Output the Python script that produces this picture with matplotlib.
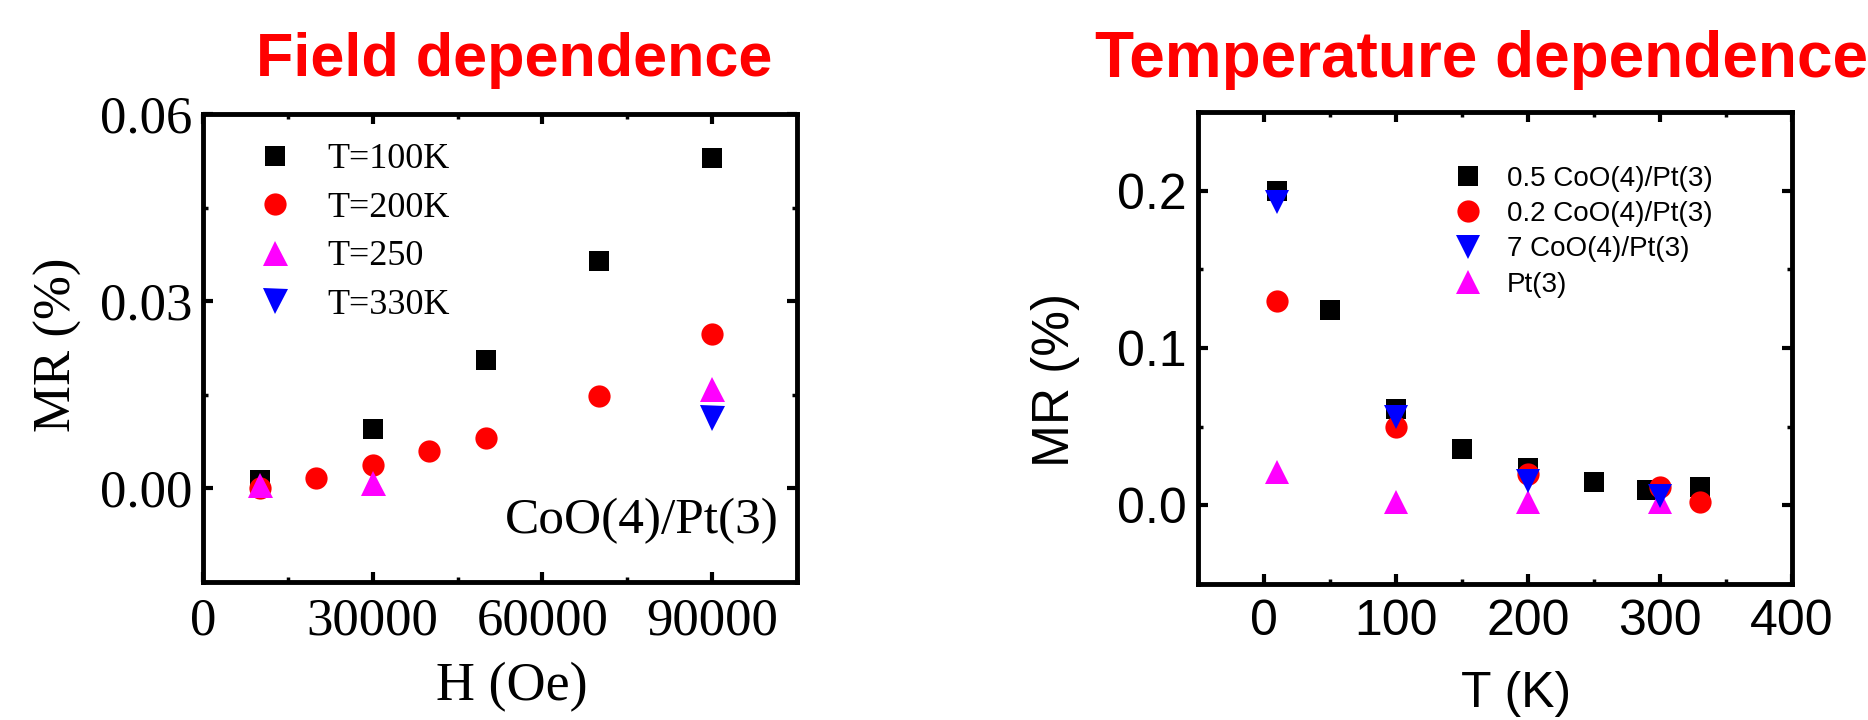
#!/usr/bin/env python
import sys
import numpy as np
import matplotlib
matplotlib.use('Agg')
import matplotlib.pyplot as plt
from matplotlib.ticker import MultipleLocator

# Field dependence, CoO(4)/Pt(3)
h_100K = [10000, 30000, 50000, 70000, 90000]
mr_100K = [0.0013, 0.0095, 0.0205, 0.0365, 0.0529]
h_200K = [10000, 20000, 30000, 40000, 50000, 70000, 90000]
mr_200K = [0.0, 0.0017, 0.0038, 0.0060, 0.0081, 0.0148, 0.0248]
h_250 = [10000, 30000, 90000]
mr_250 = [0.0005, 0.0008, 0.0160]
h_330K = [90000]
mr_330K = [0.0113]

# Temperature dependence
t_05 = [10, 50, 100, 150, 200, 250, 290, 330]
mr_05 = [0.200, 0.124, 0.061, 0.036, 0.024, 0.015, 0.0095, 0.0116]
t_02 = [10, 100, 200, 300, 330]
mr_02 = [0.130, 0.050, 0.0196, 0.0116, 0.002]
t_7 = [10, 100, 200, 300]
mr_7 = [0.193, 0.056, 0.0156, 0.0057]
t_pt = [10, 100, 200, 300]
mr_pt = [0.021, 0.0019, 0.0019, 0.0019]

SERIF = 'Liberation Serif'
SANS = 'Liberation Sans'


def style_axis(ax, family, size):
    for sp in ax.spines.values():
        sp.set_linewidth(3.5)
    ax.tick_params(which='both', direction='in', top=True, right=True)
    ax.tick_params(which='major', length=7, width=3)
    ax.tick_params(which='minor', length=3.5, width=2.5)
    ax.tick_params(axis='x', pad=11)
    ax.tick_params(axis='y', pad=8)
    for lbl in ax.get_xticklabels() + ax.get_yticklabels():
        lbl.set_family(family)
        lbl.set_fontsize(size)


def create_figure(outfile):

    # Layout (pixels, 100 dpi)
    W, H = 1868, 720
    fig = plt.figure(figsize=(W/100, H/100), dpi=100)

    # left panel: field dependence
    ax = fig.add_axes([203/W, 1-582/H, 594/W, 468/H])
    ax.plot(h_100K, mr_100K, 's', color='black', ms=14, mew=0, label='T=100K')
    ax.plot(h_200K, mr_200K, 'o', color='red', ms=16, mew=0, label='T=200K')
    ax.plot(h_250, mr_250, '^', color='magenta', ms=18, mew=0, label='T=250')
    ax.plot(h_330K, mr_330K, 'v', color='blue', ms=18, mew=0, label='T=330K')
    ax.set_xlim(0, 105000)
    ax.set_ylim(-0.015, 0.06)
    ax.xaxis.set_major_locator(MultipleLocator(30000))
    ax.xaxis.set_minor_locator(MultipleLocator(15000))
    ax.set_yticks([0.0, 0.03, 0.06], ['0.00', '0.03', '0.06'])
    ax.yaxis.set_minor_locator(MultipleLocator(0.015))
    style_axis(ax, SERIF, 38)
    ax.set_xlabel('H (Oe)', family=SERIF, fontsize=39, va='center')
    ax.xaxis.set_label_coords(512/W, 1-687/H, fig.transFigure)
    ax.set_ylabel('MR (%)', family=SERIF, fontsize=38, va='center')
    ax.yaxis.set_label_coords(58/W, 1-345/H, fig.transFigure)
    ax.text(0.97, 0.105, 'CoO(4)/Pt(3)', transform=ax.transAxes,
            ha='right', va='baseline', family=SERIF, fontsize=37)
    ax.legend(loc='upper left', bbox_to_anchor=(239/W, 1-143/H),
              bbox_transform=fig.transFigure, frameon=False, borderpad=0,
              borderaxespad=0, handlelength=2, handletextpad=0.44,
              labelspacing=0.42, prop={'family': SERIF, 'size': 26})
    fig.text(772/W, 1-76/H, 'Field dependence', ha='right', va='baseline',
             color='red', fontsize=44, fontweight='bold', family=SANS)

    # right panel: temperature dependence
    ax = fig.add_axes([1198/W, 1-584/H, 594/W, 472/H])
    l05, = ax.plot(t_05, mr_05, 's', color='black', ms=14, mew=0,
                   label='0.5 CoO(4)/Pt(3)')
    l02, = ax.plot(t_02, mr_02, 'o', color='red', ms=16, mew=0,
                   label='0.2 CoO(4)/Pt(3)')
    lpt, = ax.plot(t_pt, mr_pt, '^', color='magenta', ms=17, mew=0,
                   label='Pt(3)')
    l7, = ax.plot(t_7, mr_7, 'v', color='blue', ms=17, mew=0,
                  label='7 CoO(4)/Pt(3)')
    ax.set_xlim(-50, 400)
    ax.set_ylim(-0.05, 0.25)
    ax.xaxis.set_major_locator(MultipleLocator(100))
    ax.xaxis.set_minor_locator(MultipleLocator(50))
    ax.set_yticks([0.0, 0.1, 0.2], ['0.0', '0.1', '0.2'])
    ax.yaxis.set_minor_locator(MultipleLocator(0.05))
    style_axis(ax, SANS, 36)
    ax.set_xlabel('T (K)', family=SANS, fontsize=36, va='center')
    ax.xaxis.set_label_coords(1516/W, 1-694/H, fig.transFigure)
    ax.set_ylabel('MR (%)', family=SANS, fontsize=37, va='center')
    ax.yaxis.set_label_coords(1055/W, 1-380/H, fig.transFigure)
    ax.legend(handles=[l05, l02, l7, lpt], loc='upper left',
              bbox_to_anchor=(1440/W, 1-166/H),
              bbox_transform=fig.transFigure, frameon=False, borderpad=0,
              borderaxespad=0, handlelength=2, handletextpad=0.4,
              labelspacing=0.33, prop={'family': SANS, 'size': 20})
    fig.text(1095/W, 1-77/H, 'Temperature dependence', ha='left',
             va='baseline', color='red', fontsize=46, fontweight='bold',
             family=SANS)

    fig.savefig(outfile, dpi=100)


def main(argv=None):
    create_figure('out.png')

if __name__ == "__main__":
    sys.exit(main())
